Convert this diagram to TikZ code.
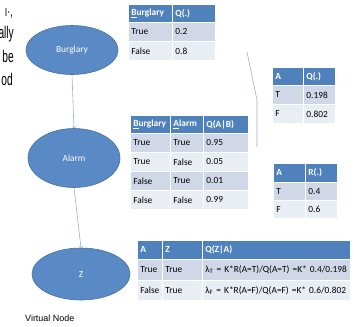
\documentclass[tikz,border=0pt]{standalone}
\usepackage{fontspec}
\usepackage{tikz}
\usetikzlibrary{shapes.geometric}
\newfontfamily\calib{Carlito}
\newfontfamily\arialf{Liberation Sans}
\newfontfamily\narrowsf[FakeStretch=0.6]{Liberation Sans}
\definecolor{hdblue}{HTML}{4F81BD}
\definecolor{rowdk}{HTML}{D0D8E8}
\definecolor{rowlt}{HTML}{E9EDF4}
\definecolor{nodeblue}{HTML}{5A8AC6}
\definecolor{nodeedge}{HTML}{41719C}
\definecolor{linkblue}{HTML}{95B3D7}
\tikzset{
  bn/.style={ellipse, fill=nodeblue, draw=nodeedge, line width=0.6bp, text=white,
    inner sep=0pt, font=\calib\fontsize{9.4}{11}\selectfont},
  link/.style={draw=linkblue, line width=0.6bp},
  cell/.style={anchor=north west, draw=white, line width=0.8bp, inner xsep=3bp,
    inner ysep=0pt, minimum height=19bp, align=left, text=black,
    font=\calib\fontsize{9.4}{11}\selectfont},
  hd/.style={cell, fill=hdblue, text=white, text width=#1,
    font=\calib\bfseries\fontsize{9.4}{11}\selectfont},
  dk/.style={cell, fill=rowdk, text width=#1},
  lt/.style={cell, fill=rowlt, text width=#1},
}
\begin{document}
\begin{tikzpicture}[x=1bp,y=-1bp]
\useasboundingbox (0,0) rectangle (354,327);

	% cut-off words at the left edge
	\node[anchor=base east, inner sep=0pt, font=\narrowsf\fontsize{15}{17}\selectfont] (w0) at (13,16) {ı·,};
	\node[anchor=base east, inner sep=0pt, font=\narrowsf\fontsize{17}{19}\selectfont] (w1) at (14,38) {ally};
	\node[anchor=base east, inner sep=0pt, font=\narrowsf\fontsize{17}{19}\selectfont] (w2) at (14,62) {be};
	\node[anchor=base east, inner sep=0pt, font=\narrowsf\fontsize{17}{19}\selectfont] (w3) at (13,85) {od};

	% network
	\node[bn, minimum width=92bp, minimum height=49bp] (burg) at (72,50) {Burglary};
	\node[bn, minimum width=92bp, minimum height=59bp] (alarm) at (74,158) {Alarm};
	\node[bn, minimum width=98bp, minimum height=52bp] (z) at (81,274) {Z};

	\node[anchor=base west, inner sep=0pt, font=\arialf\fontsize{9}{11}\selectfont] (virt) at (25,321) {Virtual Node};

	\draw[link] (burg.south) edge[->] (alarm.north)
	(alarm.south) edge[->] (z.north);

	% stray line
	\coordinate (s1) at (247,52);
	\coordinate (s2) at (257,100);
	\coordinate (s3) at (257,147);
	\draw[link] (s1) -- (s2) -- (s3);

	% Q(B)
	\node[hd=38bp, minimum height=18bp] (t1h1) at (128,4) {\underline{B}urglary};
	\node[hd=37bp, minimum height=18bp] (t1h2) at (172,4) {Q(.)};
	\node[dk=38bp] (t1a1) at (128,22) {True};
	\node[dk=37bp] (t1a2) at (172,22) {0.2};
	\node[lt=38bp] (t1b1) at (128,41) {False};
	\node[lt=37bp] (t1b2) at (172,41) {0.8};

	% Q(A)
	\node[hd=25bp, minimum height=18bp] (t2h1) at (272,67) {A};
	\node[hd=26bp, minimum height=18bp] (t2h2) at (303,67) {Q(.)};
	\node[dk=25bp] (t2a1) at (272,85) {T};
	\node[dk=26bp] (t2a2) at (303,85) {0.198};
	\node[lt=25bp] (t2b1) at (272,104) {F};
	\node[lt=26bp] (t2b2) at (303,104) {0.802};

	% Q(A|B)
	\node[hd=34bp, minimum height=18bp] (t3h1) at (130,115) {\underline{B}urglary};
	\node[hd=27bp, minimum height=18bp] (t3h2) at (170,115) {\underline{A}larm};
	\node[hd=39bp, minimum height=18bp] (t3h3) at (203,115) {Q(A|B)};
	\node[dk=34bp] (t3a1) at (130,133) {True};
	\node[dk=27bp] (t3a2) at (170,133) {True};
	\node[dk=39bp] (t3a3) at (203,133) {0.95};
	\node[lt=34bp] (t3b1) at (130,152) {True};
	\node[lt=27bp] (t3b2) at (170,152) {False};
	\node[lt=39bp] (t3b3) at (203,152) {0.05};
	\node[dk=34bp] (t3c1) at (130,171) {False};
	\node[dk=27bp] (t3c2) at (170,171) {True};
	\node[dk=39bp] (t3c3) at (203,171) {0.01};
	\node[lt=34bp] (t3d1) at (130,190) {False};
	\node[lt=27bp] (t3d2) at (170,190) {False};
	\node[lt=39bp] (t3d3) at (203,190) {0.99};

	% R(A)
	\node[hd=26bp] (t4h1) at (273,163) {A};
	\node[hd=26bp] (t4h2) at (305,163) {R(.)};
	\node[dk=26bp, minimum height=18bp] (t4a1) at (273,182) {T};
	\node[dk=26bp, minimum height=18bp] (t4a2) at (305,182) {0.4};
	\node[lt=26bp, minimum height=18bp] (t4b1) at (273,200) {F};
	\node[lt=26bp, minimum height=18bp] (t4b2) at (305,200) {0.6};

	% Q(Z|A)
	\node[hd=19bp] (t5h1) at (137,240) {A};
	\node[hd=34bp] (t5h2) at (162,240) {Z};
	\node[hd=142bp] (t5h3) at (202,240) {Q(Z|A)};
	\node[dk=19bp, minimum height=21bp] (t5a1) at (137,259) {True};
	\node[dk=34bp, minimum height=21bp] (t5a2) at (162,259) {True};
	\node[dk=142bp, minimum height=21bp] (t5a3) at (202,259) {λ\textsubscript{T} = K*R(A=T)/Q(A=T) =K* 0.4/0.198};
	\node[lt=19bp, minimum height=20bp] (t5b1) at (137,280) {False};
	\node[lt=34bp, minimum height=20bp] (t5b2) at (162,280) {True};
	\node[lt=142bp, minimum height=20bp] (t5b3) at (202,280) {λ\textsubscript{F} = K*R(A=F)/Q(A=F) =K* 0.6/0.802};

\end{tikzpicture}
\end{document}
